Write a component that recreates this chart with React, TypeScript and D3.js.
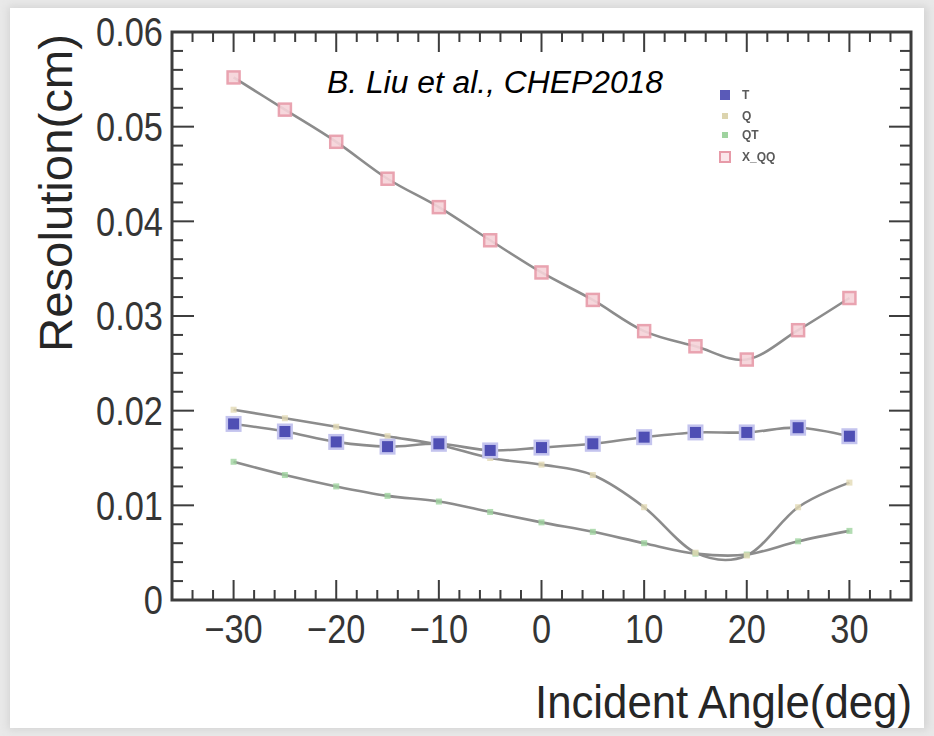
import React from 'react';
import * as d3 from 'd3';

// incident angle (deg) and resolution (cm) per method
const angles = [-30, -25, -20, -15, -10, -5, 0, 5, 10, 15, 20, 25, 30];
const resT = [0.0186, 0.0178, 0.0167, 0.0162, 0.0165, 0.0158, 0.0161, 0.0165, 0.0172, 0.0177, 0.0177, 0.0182, 0.0173];
const resQ = [0.0201, 0.0192, 0.0183, 0.0173, 0.0164, 0.0150, 0.0143, 0.0132, 0.0098, 0.0050, 0.0047, 0.0098, 0.0124];
const resQT = [0.0146, 0.0132, 0.0120, 0.0110, 0.0104, 0.0093, 0.0082, 0.0072, 0.0060, 0.0049, 0.0048, 0.0062, 0.0073];
const resXQQ = [0.0552, 0.0518, 0.0484, 0.0445, 0.0415, 0.0380, 0.0346, 0.0317, 0.0284, 0.0268, 0.0254, 0.0285, 0.0319];

const legendNames = ['T', 'Q', 'QT', 'X_QQ'];
const xTickVals = [-30, -20, -10, 0, 10, 20, 30];
const yTickVals = [0, 0.01, 0.02, 0.03, 0.04, 0.05, 0.06];

const W = 934;
const H = 736;
const frame = { left: 172, right: 911, top: 32, bottom: 600 };

const fmtY = (v: number) => (v === 0 ? '0' : v.toFixed(2));
const fmtX = (v: number) => (v < 0 ? '\u2212' + Math.abs(v) : String(v));

export default function App() {
  const x = d3.scaleLinear().domain([-36, 36]).range([frame.left, frame.right]);
  const y = d3.scaleLinear().domain([0, 0.06]).range([frame.bottom, frame.top]);

  const line = d3
    .line<[number, number]>()
    .x((d) => x(d[0]))
    .y((d) => y(d[1]))
    .curve(d3.curveCardinal.tension(0));

  const pts = (vals: number[]) => angles.map((a, i) => [a, vals[i]] as [number, number]);

  const xMinor = d3.range(-34, 36, 2).filter((v) => v % 10 !== 0);
  const yMinor = d3.range(0.002, 0.06, 0.002).filter((v) => Math.abs(v * 100 - Math.round(v * 100)) > 1e-6);

  const axisColor = '#3c3c3c';
  const lineColor = '#8c8c8c';
  const font = 'Liberation Sans, Arial, sans-serif';

  return (
    <svg width={W} height={H} style={{ position: 'absolute', left: 0, top: 0 }} fontFamily={font}>
      <defs>
        <filter id="soft" x="-5%" y="-5%" width="110%" height="110%">
          <feGaussianBlur stdDeviation="0.7" />
        </filter>
        <filter id="shadow" x="-5%" y="-5%" width="110%" height="110%">
          <feGaussianBlur stdDeviation="4" />
        </filter>
      </defs>
      <rect width={W} height={H} fill="#e9e9e9" />
      <rect x={8} y={6} width={W - 14} height={H - 12} fill="#d4d4d4" filter="url(#shadow)" />
      <rect x={10} y={8} width={W - 20} height={H - 16} fill="#ffffff" />

      {/* frame and ticks */}
      <g stroke={axisColor} filter="url(#soft)">
        {xTickVals.map((v) => (
          <g key={'xm' + v} strokeWidth={2}>
            <line x1={x(v)} x2={x(v)} y1={frame.bottom} y2={frame.bottom - 20} />
            <line x1={x(v)} x2={x(v)} y1={frame.top} y2={frame.top + 20} />
          </g>
        ))}
        {xMinor.map((v) => (
          <g key={'xn' + v} strokeWidth={2}>
            <line x1={x(v)} x2={x(v)} y1={frame.bottom} y2={frame.bottom - 10} />
            <line x1={x(v)} x2={x(v)} y1={frame.top} y2={frame.top + 10} />
          </g>
        ))}
        {yTickVals.map((v) => (
          <g key={'ym' + v} strokeWidth={2}>
            <line x1={frame.left} x2={frame.left + 22} y1={y(v)} y2={y(v)} />
            <line x1={frame.right} x2={frame.right - 22} y1={y(v)} y2={y(v)} />
          </g>
        ))}
        {yMinor.map((v) => (
          <g key={'yn' + v} strokeWidth={2}>
            <line x1={frame.left} x2={frame.left + 11} y1={y(v)} y2={y(v)} />
            <line x1={frame.right} x2={frame.right - 11} y1={y(v)} y2={y(v)} />
          </g>
        ))}
        <rect
          x={frame.left}
          y={frame.top}
          width={frame.right - frame.left}
          height={frame.bottom - frame.top}
          fill="none"
          strokeWidth={3}
        />
      </g>

      {/* tick labels */}
      <g fill="#353535" fontSize={40}>
        {yTickVals.map((v) => (
          <text
            key={'yl' + v}
            transform={`translate(${frame.left - 9},${y(v)}) scale(0.86,1)`}
            textAnchor="end"
            dy="0.36em"
          >
            {fmtY(v)}
          </text>
        ))}
        {xTickVals.map((v) => (
          <text
            key={'xl' + v}
            transform={`translate(${x(v)},${frame.bottom + 43}) scale(0.86,1)`}
            textAnchor="middle"
          >
            {fmtX(v)}
          </text>
        ))}
      </g>

      {/* axis titles */}
      <text x={912} y={718} textAnchor="end" fontSize={46} fill="#262626" textLength={377} lengthAdjust="spacingAndGlyphs">
        Incident Angle(deg)
      </text>
      <text
        transform={`translate(72,352) rotate(-90)`}
        fontSize={46}
        fill="#262626"
        textLength={318}
        lengthAdjust="spacingAndGlyphs"
      >
        Resolution(cm)
      </text>

      {/* data */}
      <g filter="url(#soft)">
        {[resT, resQ, resQT, resXQQ].map((vals, i) => (
          <path key={'l' + i} d={line(pts(vals)) || ''} fill="none" stroke={lineColor} strokeWidth={2.6} />
        ))}
        {angles.map((a, i) => (
          <rect key={'qt' + a} x={x(a) - 3} y={y(resQT[i]) - 3} width={6} height={6} fill="#9fd39f" opacity={0.8} />
        ))}
        {angles.map((a, i) => (
          <rect key={'q' + a} x={x(a) - 3} y={y(resQ[i]) - 3} width={6} height={6} fill="#e2dab4" opacity={0.8} />
        ))}
        {angles.map((a, i) => (
          <g key={'t' + a}>
            <rect x={x(a) - 8} y={y(resT[i]) - 8} width={16} height={16} fill="#c4c4ee" />
            <rect x={x(a) - 5.5} y={y(resT[i]) - 5.5} width={11} height={11} fill="#4f4fb4" />
          </g>
        ))}
        {angles.map((a, i) => (
          <rect
            key={'x' + a}
            x={x(a) - 6}
            y={y(resXQQ[i]) - 6}
            width={12}
            height={12}
            fill="#f6d3d9"
            stroke="#e79aa8"
            strokeWidth={2.5}
            opacity={0.9}
          />
        ))}
      </g>

      {/* legend */}
      <g fontSize={12} fill="#5a5a5a" filter="url(#soft)">
        {legendNames.map((name, i) => {
          const ly = [95, 116, 135, 157][i];
          return (
            <g key={name}>
              {i === 0 && <rect x={720} y={ly - 5} width={10} height={10} fill="#5a5ab8" />}
              {i === 1 && <rect x={722} y={ly - 3} width={6} height={6} fill="#dcd4ae" />}
              {i === 2 && <rect x={722} y={ly - 3} width={6} height={6} fill="#9fd39f" />}
              {i === 3 && <rect x={720} y={ly - 5} width={10} height={10} fill="#fbe6ea" stroke="#e79aa8" strokeWidth={2} />}
              <text x={742} y={ly} dy="0.35em" fontWeight="bold">
                {name}
              </text>
            </g>
          );
        })}
      </g>

      <text x={327} y={93} fontSize={31} fontStyle="italic" fill="#000" textLength={336} lengthAdjust="spacingAndGlyphs">
        B. Liu et al., CHEP2018
      </text>
    </svg>
  );
}
